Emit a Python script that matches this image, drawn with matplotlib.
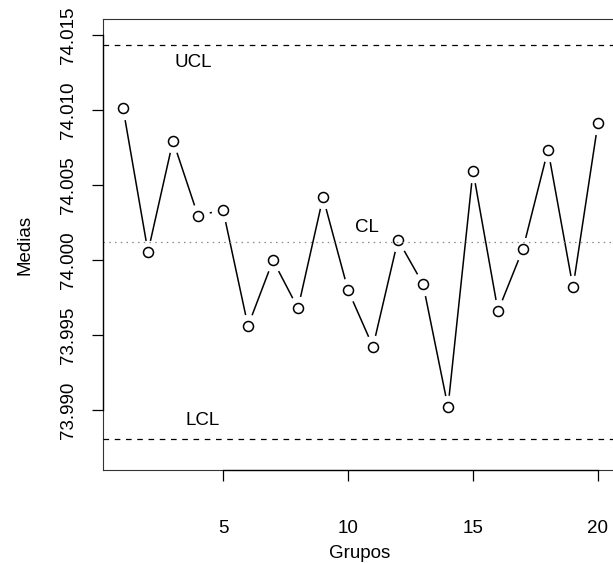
import numpy as np
import matplotlib
matplotlib.use("Agg")
import matplotlib.pyplot as plt

plt.rcParams['font.family'] = ['Liberation Sans', 'DejaVu Sans']

# Group means (X-bar chart)
grupos = list(range(1, 21))
medias = [74.01015, 74.00055, 74.00795, 74.00295, 74.00335,
          73.99560, 73.99998, 73.99678, 74.00418, 73.99800,
          73.99422, 74.00135, 73.99840, 73.99020, 74.00595,
          73.99660, 74.00075, 74.00735, 73.99818, 74.00915]

# Control limits
UCL = 74.01431
CL = 74.00118
LCL = 73.98805

xticks = [5, 10, 15, 20]
yticks = [73.990, 73.995, 74.000, 74.005, 74.010, 74.015]
ytick_labels = ["73.990", "73.995", "74.000", "74.005", "74.010", "74.015"]

W, H = 613, 563
fig = plt.figure(figsize=(W / 100, H / 100), dpi=100)
ax = fig.add_axes([103 / W, 1 - 470 / H, (617 - 103) / W, (470 - 19) / H])

ax.set_xlim(0.2, 20.76)
ax.set_ylim(73.98600, 74.01607)

# Connecting lines with a gap around each point (R type="b" look)
ax.plot(grupos, medias, color='black', lw=1.1, zorder=2, solid_capstyle='butt')
ax.plot(grupos, medias, linestyle='none', marker='o', markersize=17,
        markerfacecolor='white', markeredgecolor='none', zorder=2.5)
ax.plot(grupos, medias, linestyle='none', marker='o', markersize=7.2,
        markerfacecolor='white', markeredgecolor='black', markeredgewidth=1.1,
        zorder=3)

# Control limit lines
ax.axhline(UCL, color='black', lw=0.9, linestyle=(0, (4.5, 4.5)), zorder=4)
ax.axhline(LCL, color='black', lw=0.9, linestyle=(0, (4.5, 4.5)), zorder=4)
ax.axhline(CL, color='#888888', lw=0.9, linestyle=(0, (1.2, 3.4)), zorder=4)

ax.text(3.82, 74.0132, "UCL", ha='center', va='center', fontsize=13.5)
ax.text(10.76, 74.0022, "CL", ha='center', va='center', fontsize=13.5)
ax.text(4.2, 73.98933, "LCL", ha='center', va='center', fontsize=13.5)

ax.set_xticks(xticks)
ax.set_xticklabels([str(t) for t in xticks])
ax.set_yticks(yticks)
ax.set_yticklabels(ytick_labels, rotation=90, va='center')

ax.tick_params(axis='both', direction='out', length=8, width=0.9,
               labelsize=13.5, colors='black')
ax.tick_params(axis='x', pad=28)
ax.tick_params(axis='y', pad=11)

for side in ['left', 'bottom', 'top', 'right']:
    ax.spines[side].set_linewidth(0.8)
    ax.spines[side].set_color('#333333')

# Axis lines spanning the tick range
ax.plot([xticks[0], xticks[-1]], [0, 0], transform=ax.get_xaxis_transform(),
        color='black', lw=0.95, clip_on=False, zorder=5)
ax.plot([0, 0], [yticks[0], yticks[-1]], transform=ax.get_yaxis_transform(),
        color='black', lw=0.95, clip_on=False, zorder=5)

ax.set_xlabel("Grupos", fontsize=13.5, labelpad=6)
ax.set_ylabel("Medias", fontsize=13.5, labelpad=19)

fig.savefig("out.png", dpi=100)
